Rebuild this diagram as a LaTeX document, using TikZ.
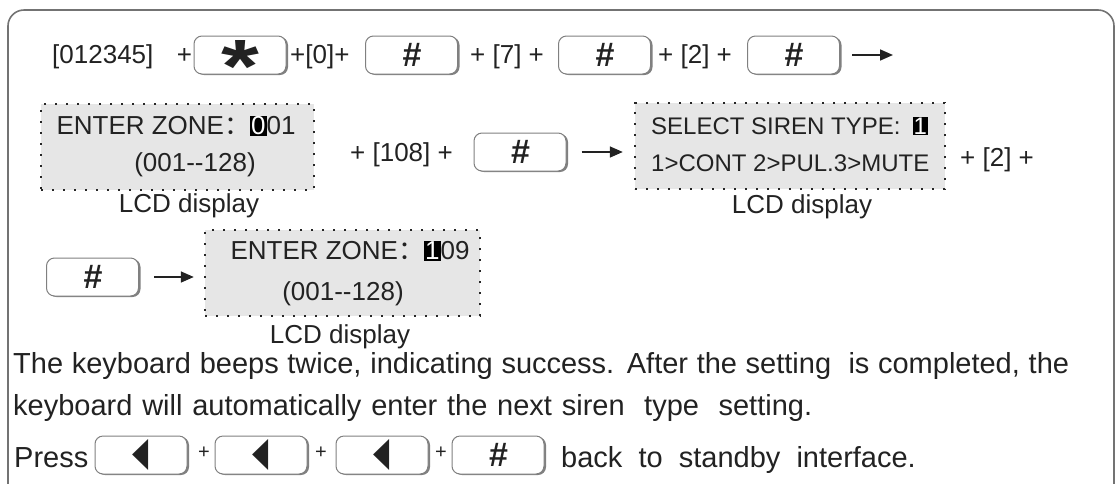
\documentclass[tikz,border=0pt]{standalone}
\usepackage{fontspec}
\setmainfont{Liberation Sans}
\newfontfamily\cjkfont{Noto Sans CJK SC}
\newfontfamily\symfont{DejaVu Sans}
\usetikzlibrary{arrows.meta,shadows}
\definecolor{inkGray}{HTML}{222222}
\definecolor{lcdGray}{HTML}{E6E6E6}
\definecolor{keyEdge}{HTML}{808080}
\newcommand{\zcolon}{{\cjkfont ：}}
\newcommand{\lcdcur}[1]{{\setlength{\fboxsep}{1pt}\colorbox{black}{\textcolor{white}{#1}}}}
\newcommand{\keystar}{{\fontsize{54}{54}\selectfont\bfseries\raisebox{-37pt}[0pt][0pt]{\scalebox{1.8}[1.4]{*}}}}
\newcommand{\keyhash}{{\fontsize{34}{34}\selectfont\bfseries\itshape\#}}
\newcommand{\keyback}{{\fontsize{28}{28}\symfont\scalebox{0.75}[1.45]{◀}}}

\begin{document}
\begin{tikzpicture}[
  x=1pt,
  y=-1pt,
  font=\fontsize{26}{30}\selectfont,
  text=inkGray,
  key/.style={
    rectangle,
    rounded corners=8pt,
    draw=keyEdge,
    line width=1pt,
    fill=white,
    minimum width=92pt,
    minimum height=38pt,
    inner sep=0pt,
    drop shadow={shadow xshift=2pt,shadow yshift=-1pt,fill=black!50,opacity=1}
  },
  lcd/.style={
    rectangle,
    fill=lcdGray,
    draw=black!85,
    line width=2.4pt,
    dash pattern=on 2.4pt off 8.6pt,
    minimum height=86pt,
    inner sep=0pt
  },
  lbl/.style={inner sep=0pt},
  lcdsmall/.style={inner sep=0pt,font=\fontsize{24}{28}\selectfont},
  note/.style={inner sep=0pt,font=\fontsize{29}{34}\selectfont},
  small/.style={inner sep=0pt,font=\fontsize{20}{20}\selectfont},
  arrow/.style={-{Triangle[length=13pt,width=11pt]},draw=inkGray,line width=1.6pt},
  frame/.style={draw=black!55,line width=1.6pt,rounded corners=16pt}
]
\useasboundingbox (0,0) rectangle (1117,483);
\clip (0,0) rectangle (1117,483);

% Outer frame.
\draw[frame] (8,10) rectangle (1114,510);

% First key sequence.
\node[lbl,anchor=base west] (s1) at (52,63) {[012345]\hspace{0.9em}+};
\node[key] (k1) at (240,55) {\keystar};
\node[lbl,anchor=base west] (s2) at (290,63) {+[0]+};
\node[key] (k2) at (411.5,55) {\keyhash};
\node[lbl,anchor=base west] (s3) at (470,63) {+ [7] +};
\node[key] (k3) at (604.5,55) {\keyhash};
\node[lbl,anchor=base west] (s4) at (658,63) {+ [2] +};
\node[key] (k4) at (793.5,55) {\keyhash};
\coordinate (r1end) at (893,55);
\draw[arrow,shorten <=12pt] (k4.east) -- (r1end);

% Zone display and siren type.
\node[lcd,minimum width=273pt] (lcd1) at (177.5,147) {};
\node[lbl] (l1a) at (176,126) {ENTER ZONE\zcolon\lcdcur{0}01};
\node[lbl] (l1b) at (195,165) {(001-{}-128)};
\node[lbl] (cap1) at (189,206) {LCD display};

\node[lbl,anchor=base west] (s5) at (350,161) {+ [108] +};
\node[key] (k5) at (520,152) {\keyhash};

\node[lcd,minimum width=310pt] (lcd2) at (790,146) {};
\node[lcdsmall,anchor=west] (l2a) at (651,126) {SELECT SIREN TYPE:\enspace\lcdcur{1}};
\node[lcdsmall,anchor=west] (l2b) at (651,163) {1>CONT 2>PUL.3>MUTE};
\node[lbl] (cap2) at (802,207) {LCD display};
\draw[arrow,shorten <=15pt,shorten >=11pt] (k5.east) -- (k5.east -| lcd2.west);

\node[lbl,anchor=base west] (s6) at (960,166) {+ [2] +};

% Confirm zone.
\node[key] (k6) at (92.5,277) {\keyhash};
\node[lcd,minimum width=275pt] (lcd3) at (342.5,273) {};
\node[lbl] (l3a) at (350,251) {ENTER ZONE\zcolon\lcdcur{1}09};
\node[lbl] (l3b) at (343,294) {(001-{}-128)};
\node[lbl] (cap3) at (340,337) {LCD display};
\draw[arrow,shorten <=15pt,shorten >=10pt] (k6.east) -- (k6.east -| lcd3.west);

% Notes.
\node[note,anchor=west] (p1) at (13,366) {\makebox[1056pt][s]{The keyboard beeps twice, indicating success. After the setting\ \ is completed, the}};
\node[note,anchor=west] (p2) at (13,408) {\makebox[799pt][s]{keyboard will automatically enter the next siren\ \ type\ \ setting.}};
\node[note,anchor=base west] (p3) at (14,467) {Press};
\node[key] (b1) at (141,455) {\keyback};
\node[small] (pl1) at (204,453) {+};
\node[key] (b2) at (261,455) {\keyback};
\node[small] (pl2) at (321,453) {+};
\node[key] (b3) at (382,455) {\keyback};
\node[small] (pl3) at (441,453) {+};
\node[key] (b4) at (498,455) {\keyhash};
\node[note,anchor=base west] (p4) at (561,467) {back\ \ to\ \ standby\ \ interface.};

\end{tikzpicture}
\end{document}
